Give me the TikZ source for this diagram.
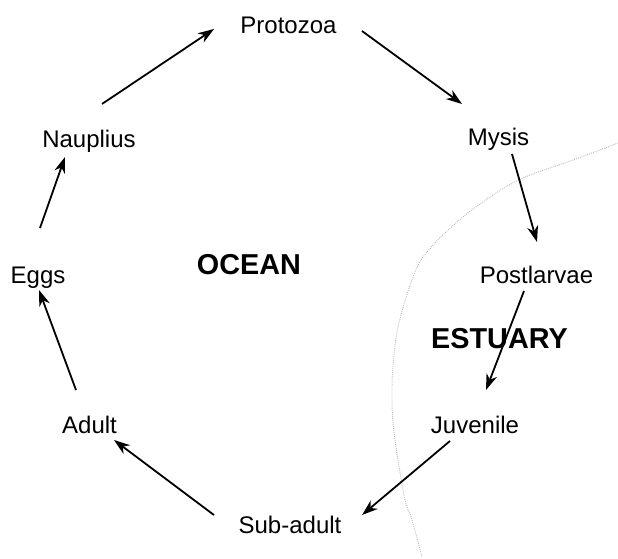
\documentclass[tikz,border=0pt]{standalone}
\usepackage{fontspec}
\setmainfont{Liberation Sans}
\usetikzlibrary{arrows.meta,calc}
\begin{document}
\begin{tikzpicture}[x=1pt,y=-1pt,
  stage/.style={inner sep=0pt,anchor=base,font=\fontsize{24}{28}\selectfont},
  zone/.style={inner sep=0pt,anchor=base,font=\fontsize{28.8}{32}\selectfont\bfseries},
  arr/.style={line width=1.8pt,-{Stealth[length=16pt,width=11pt,inset=5pt]}},
  shore/.style={gray!60,line width=0.9pt,dash pattern=on 0.8pt off 1.2pt}]
\useasboundingbox (0,0) rectangle (618,559);

% boundary between ocean and estuary
\draw[shore] plot[smooth,tension=0.6] coordinates {
  (618,143) (573,160) (523,178) (490,197) (457,222) (427,252) (413,277)
  (398,327) (393,367) (392,393) (393,423) (398,460) (405,500) (412,520) (422,557)};

% life stages
\node[stage] (proto) at (288.5,34)  {Protozoa};
\node[stage] (naup)  at (89,147)    {Nauplius};
\node[stage] (mysis) at (498.5,146) {Mysis};
\node[stage] (eggs)  at (38,283)    {Eggs};
\node[stage] (post)  at (536.5,283) {Postlarvae};
\node[stage] (adult) at (89.5,433)  {Adult};
\node[stage] (juv)   at (475,433)   {Juvenile};
\node[stage] (sub)   at (290,533)   {Sub-adult};

% habitats
\node[zone] (ocean) at (249,274)   {OCEAN};
\node[zone] (estu)  at (499.5,348) {ESTUARY};

% cycle
\draw[arr] ($(eggs.base)+(2,-55)$)    -- ($(naup.base)+(-24,10)$);
\draw[arr] ($(naup.base)+(13,-43)$)   -- ($(proto.base)+(-74.5,-5)$);
\draw[arr] ($(proto.base)+(73.5,-3)$) -- ($(mysis.base)+(-36.5,-42)$);
\draw[arr] ($(mysis.base)+(13.5,8)$)  -- ($(post.base)+(0.5,-41)$);
\draw[arr] ($(post.base)+(-12.5,8)$)  -- ($(juv.base)+(11,-43)$);
\draw[arr] ($(juv.base)+(-25,8)$)     -- ($(sub.base)+(72,-18)$);
\draw[arr] ($(sub.base)+(-76,-18)$)   -- ($(adult.base)+(24.5,7)$);
\draw[arr] ($(adult.base)+(-13.5,-43)$) -- ($(eggs.base)+(1,7)$);
\end{tikzpicture}
\end{document}
